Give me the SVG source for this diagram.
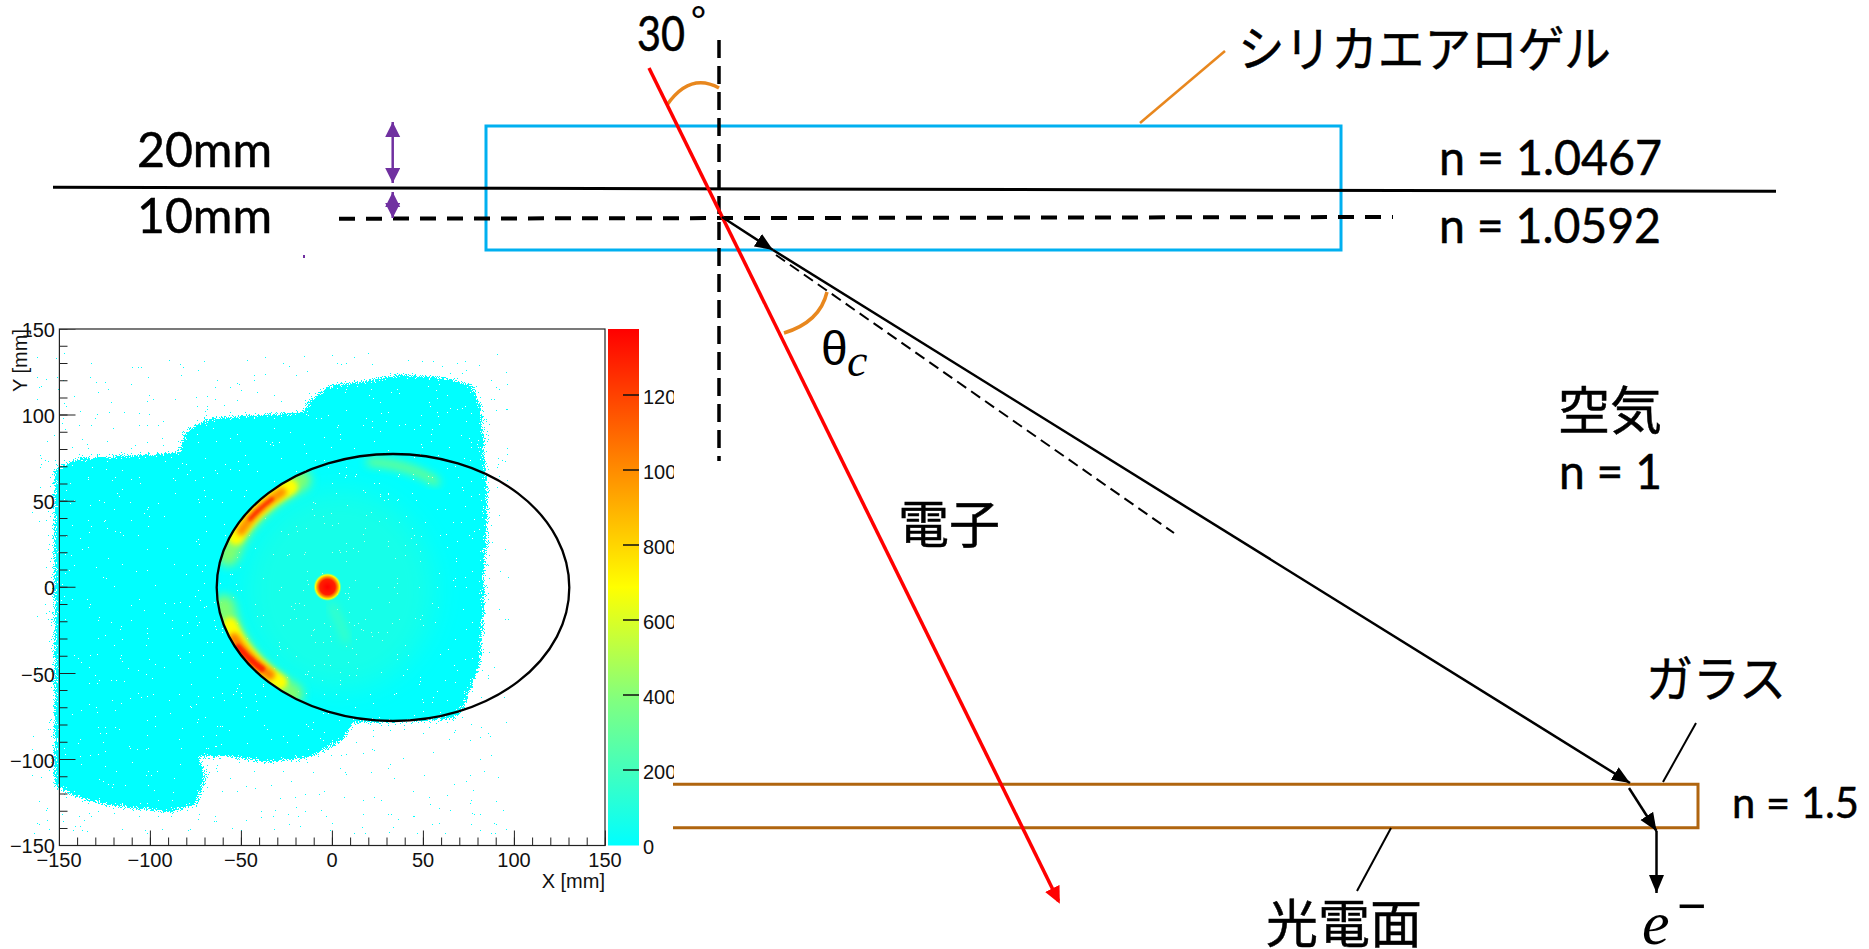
<svg xmlns="http://www.w3.org/2000/svg" width="1869" height="949" viewBox="0 0 1869 949">
<style>
text{fill:#000}
.l{font-family:Lato,"Liberation Sans",sans-serif;font-size:48px;stroke:#000;stroke-width:.5}
.j{font-family:"Noto Sans CJK JP","Liberation Sans",sans-serif;font-size:47px;stroke:#000;stroke-width:.5}
.p{font-family:"Liberation Sans",Arial,sans-serif;font-size:20px;fill:#111}
.e{text-anchor:end}.m{text-anchor:middle}
.k{fill:none;stroke:#000;stroke-width:2.3}
.h{fill:none;stroke-linecap:round}
</style>
<defs>
<marker id="ah" markerUnits="userSpaceOnUse" markerWidth="20" markerHeight="16" refX="18" refY="7.5" orient="auto"><path d="M0,0L18,7.500L0,15Z" fill="#000"/></marker>
<marker id="ar" markerUnits="userSpaceOnUse" markerWidth="20" markerHeight="18" refX="14" refY="8" orient="auto"><path d="M0,0L17,8L0,16Z" fill="#f00"/></marker>
<marker id="ap" markerUnits="userSpaceOnUse" markerWidth="16" markerHeight="16" refX="15" refY="7.500" orient="auto-start-reverse"><path d="M0,0L15,7.500L0,15Z" fill="#7030a0"/></marker>
<linearGradient id="bar" x1="0" y1="1" x2="0" y2="0">
<stop offset="0" stop-color="#0ff"/><stop offset=".28" stop-color="#80ff80"/><stop offset=".5" stop-color="#ff0"/><stop offset=".75" stop-color="#ff8000"/><stop offset="1" stop-color="#f00"/>
</linearGradient>
<radialGradient id="spot"><stop offset="0" stop-color="#f00"/><stop offset=".55" stop-color="#ff2000"/><stop offset=".72" stop-color="#ff9000"/><stop offset=".86" stop-color="#ff0"/><stop offset="1" stop-color="#a0ff60" stop-opacity="0"/></radialGradient>
<filter id="speck" x="-5%" y="-5%" width="110%" height="110%" color-interpolation-filters="sRGB">
<feGaussianBlur in="SourceAlpha" stdDeviation="7" result="b"/>
<feTurbulence type="fractalNoise" baseFrequency=".5" numOctaves="2" seed="4" result="n"/>
<feComposite in="b" in2="n" operator="arithmetic" k1="0" k2="1" k3="1.75" k4="-.875" result="s"/>
<feComponentTransfer in="s" result="t"><feFuncA type="discrete" tableValues="0 1"/></feComponentTransfer>
<feFlood flood-color="#0ff"/><feComposite in2="t" operator="in"/>
</filter>
<filter id="b1" x="-30%" y="-30%" width="160%" height="160%"><feGaussianBlur stdDeviation="1.500"/></filter>
<filter id="b2" x="-30%" y="-30%" width="160%" height="160%"><feGaussianBlur stdDeviation="2.500"/></filter>
<filter id="b3" x="-40%" y="-40%" width="180%" height="180%"><feGaussianBlur stdDeviation="5"/></filter>
<filter id="b9" x="-30%" y="-30%" width="160%" height="160%"><feGaussianBlur stdDeviation="14"/></filter>
<clipPath id="ell"><ellipse cx="393" cy="587.500" rx="176.300" ry="133.500"/></clipPath>
<clipPath id="barlab"><rect x="640" y="380" width="34" height="490"/></clipPath>
</defs>

<g id="plot">
<path filter="url(#speck)" fill="#0ff" transform="translate(0,300) scale(.4464,.382)" d="M122,445L175,415L250,410L330,405L400,400L420,340L470,310L600,300L680,295L700,255L740,225L830,210L900,195L1000,205L1060,225L1080,300L1085,400L1090,500L1090,620L1085,700L1085,800L1075,950L1060,1000L1040,1060L1020,1095L900,1105L790,1105L770,1150L700,1195L600,1210L520,1195L445,1195L460,1250L440,1320L380,1340L300,1330L230,1320L170,1300L122,1270Z"/>
<g clip-path="url(#ell)">
<ellipse cx="340" cy="590" rx="95" ry="100" fill="#40ffc0" opacity=".35" filter="url(#b9)"/>
<path class="h" d="M228,555A170 127 0 0 1 300,480" stroke="#80ff70" stroke-width="22" filter="url(#b3)"/>
<path class="h" d="M236,537A170 127 0 0 1 290,487" stroke="#ff0" stroke-width="16" filter="url(#b2)"/>
<path class="h" d="M241,531A170 127 0 0 1 282,492" stroke="#ff9000" stroke-width="9" filter="url(#b2)"/>
<path class="h" d="M250,519A170 127 0 0 1 272,499" stroke="#ff3000" stroke-width="4" filter="url(#b1)"/>
<path class="h" d="M224,606A170 127 0 0 0 292,694" stroke="#80ff70" stroke-width="22" filter="url(#b3)"/>
<path class="h" d="M230,625A170 127 0 0 0 280,682" stroke="#ff0" stroke-width="15" filter="url(#b2)"/>
<path class="h" d="M234,638A170 127 0 0 0 270,675" stroke="#ff8000" stroke-width="10" filter="url(#b2)"/>
<path class="h" d="M238,647A170 127 0 0 0 262,669" stroke="#ff2000" stroke-width="6" filter="url(#b1)"/>
<path class="h" d="M370,462Q410,464 436,482" stroke="#b0ff40" stroke-width="7" opacity=".75" filter="url(#b3)"/>
<path class="h" d="M332,606Q342,625 346,640" stroke="#90ff70" stroke-width="6" opacity=".4" filter="url(#b3)"/>
</g>
<ellipse cx="327.500" cy="587" rx="14" ry="14" fill="url(#spot)"/>
<ellipse cx="393" cy="587.500" rx="176.300" ry="133.500" class="k"/>
<rect x="59.400" y="329" width="545.600" height="516.500" fill="none" stroke="#222" stroke-width="1.200"/>
<g fill="none" stroke="#222">
<line x1="59.400" y1="841.500" x2="606" y2="841.500" stroke-width="8" stroke-dasharray="1 17.200" stroke-dashoffset=".5"/>
<line x1="59.400" y1="838" x2="606" y2="838" stroke-width="15" stroke-dasharray="1 90" stroke-dashoffset=".5"/>
<line x1="63.500" y1="329" x2="63.500" y2="846" stroke-width="8" stroke-dasharray="1 16.220" stroke-dashoffset=".5"/>
<line x1="67.500" y1="329" x2="67.500" y2="846" stroke-width="16" stroke-dasharray="1 85.100" stroke-dashoffset=".5"/>
</g>
<g class="p">
<text class="p m" x="59" y="867">−150</text><text class="p m" x="150" y="867">−100</text><text class="p m" x="241" y="867">−50</text><text class="p m" x="332" y="867">0</text><text class="p m" x="423" y="867">50</text><text class="p m" x="514" y="867">100</text><text class="p m" x="605" y="867">150</text>
<text class="p e" x="605" y="888">X [mm]</text>
<text class="p e" x="55" y="337">150</text><text class="p e" x="55" y="423">100</text><text class="p e" x="55" y="509">50</text><text class="p e" x="55" y="595">0</text><text class="p e" x="55" y="682">−50</text><text class="p e" x="55" y="768">−100</text><text class="p e" x="55" y="853">−150</text>
<text class="p e" transform="translate(27,329) rotate(-90)">Y [mm]</text>
</g>
<rect x="608" y="329" width="31" height="516.500" fill="url(#bar)"/>
<path d="M623,395H639M623,470H639M623,545H639M623,620H639M623,695H639M623,770H639" stroke="#111" stroke-width="1.300" fill="none"/>
<g clip-path="url(#barlab)"><text class="p" x="643" y="404">120</text><text class="p" x="643" y="479">100</text><text class="p" x="643" y="554">800</text><text class="p" x="643" y="629">600</text><text class="p" x="643" y="704">400</text><text class="p" x="643" y="779">200</text><text class="p" x="643" y="854">0</text></g>
</g>

<g id="aerogel"><rect x="486" y="126" width="855" height="124" fill="none" stroke="#00b0f0" stroke-width="3"/></g>
<g id="glass"><path d="M673,784.300H1698V827.700H673" fill="none" stroke="#b0650f" stroke-width="3"/></g>

<g id="connectors" fill="none">
<line x1="53" y1="187.300" x2="1776" y2="191.300" stroke="#000" stroke-width="3"/>
<line x1="339" y1="218.700" x2="1393" y2="217" stroke="#000" stroke-width="4" stroke-dasharray="16 11"/>
<line x1="719" y1="40" x2="719" y2="461" stroke="#000" stroke-width="3.500" stroke-dasharray="18 8"/>
<path d="M667,105Q690,72 719,88" stroke="#e8871e" stroke-width="3.500"/>
<path d="M827,292Q820,322 784,333" stroke="#e8871e" stroke-width="3.500"/>
<line x1="1225" y1="51" x2="1140" y2="123" stroke="#e8871e" stroke-width="2.500"/>
<line x1="649" y1="68" x2="1058.500" y2="901" stroke="#f00" stroke-width="3.500" marker-end="url(#ar)"/>
<line x1="722" y1="217" x2="773" y2="250" stroke="#000" stroke-width="2.500" marker-end="url(#ah)"/>
<line x1="773" y1="250" x2="1630" y2="783" stroke="#000" stroke-width="2.500" marker-end="url(#ah)"/>
<line x1="776" y1="255" x2="1174" y2="533" stroke="#000" stroke-width="2" stroke-dasharray="11 6"/>
<line x1="1629" y1="788" x2="1656.500" y2="831" stroke="#000" stroke-width="2.500" marker-end="url(#ah)"/>
<line x1="1656.500" y1="831" x2="1656.500" y2="893" stroke="#000" stroke-width="2.500" marker-end="url(#ah)"/>
<line x1="1696" y1="723" x2="1663" y2="782" stroke="#000" stroke-width="2"/>
<line x1="1391" y1="828" x2="1357" y2="891" stroke="#000" stroke-width="2"/>
<line x1="392.700" y1="122" x2="392.700" y2="183" stroke="#7030a0" stroke-width="2.500" marker-start="url(#ap)" marker-end="url(#ap)"/>
<line x1="392.700" y1="192" x2="392.700" y2="218" stroke="#7030a0" stroke-width="2.500" marker-start="url(#ap)" marker-end="url(#ap)"/>
</g>

<g id="labels">
<text class="l" x="637" y="51" textLength="48" lengthAdjust="spacingAndGlyphs">30</text><text class="l" x="691" y="33" style="font-size:36px;stroke-width:.2">°</text>
<text class="l" x="137" y="167" textLength="135" lengthAdjust="spacingAndGlyphs">20mm</text>
<text class="l" x="137" y="233" textLength="135" lengthAdjust="spacingAndGlyphs">10mm</text>
<text class="l" x="1439" y="175" textLength="223" lengthAdjust="spacingAndGlyphs">n = 1.0467</text>
<text class="l" x="1439" y="243" textLength="222" lengthAdjust="spacingAndGlyphs">n = 1.0592</text>
<text class="l" x="1559" y="489" textLength="103" lengthAdjust="spacingAndGlyphs">n = 1</text>
<text class="l" x="1732" y="818" style="font-size:42px" textLength="127" lengthAdjust="spacingAndGlyphs">n = 1.5</text>
<text class="j" x="1238" y="67" style="font-size:49px" textLength="373" lengthAdjust="spacingAndGlyphs">シリカエアロゲル</text>
<text class="j" x="1558" y="430" style="font-size:52px">空気</text>
<text class="j" x="898" y="543" style="font-size:51px">電子</text>
<text class="j" x="1646" y="697" style="font-size:49px" textLength="140" lengthAdjust="spacingAndGlyphs">ガラス</text>
<text class="j" x="1266" y="943" style="font-size:52px">光電面</text>
<text x="821" y="365" style="font-family:'Liberation Sans',sans-serif;font-size:48px">θ</text>
<text x="847" y="376" style="font-family:'Liberation Serif',serif;font-style:italic;font-size:46px">c</text>
<text x="1642" y="944" style="font-family:'Liberation Serif',serif;font-style:italic;font-size:62px">e</text>
<text x="1677" y="923" style="font-family:'Liberation Sans',sans-serif;font-size:50px">−</text>
</g>
<rect id="speck-mark" x="303" y="255" width="2" height="3" fill="#7030a0"/>
</svg>
